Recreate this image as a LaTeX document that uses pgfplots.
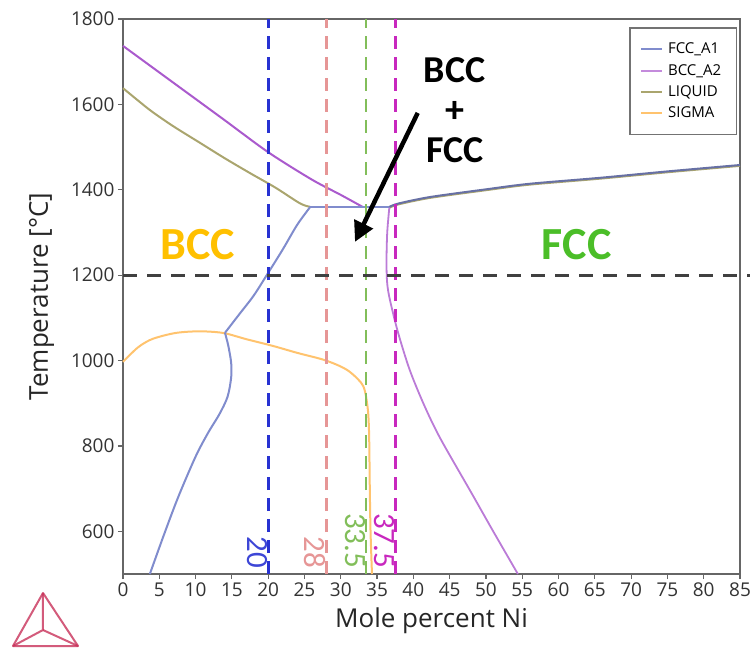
\documentclass[border=0pt]{standalone}
\usepackage{fontspec}
\setmainfont{Open Sans}
\newfontfamily\cali{Carlito}
\usepackage{pgfplots}
\pgfplotsset{compat=1.18}
\usetikzlibrary{arrows.meta}
\definecolor{fccblue}{RGB}{128,140,205}
\definecolor{bccpurple}{RGB}{170,90,205}
\definecolor{liqolive}{RGB}{170,165,110}
\definecolor{sigorange}{RGB}{255,195,110}
\definecolor{dblue}{RGB}{40,50,210}
\definecolor{dsalmon}{RGB}{230,150,150}
\definecolor{dgreen}{RGB}{130,190,90}
\definecolor{dmag}{RGB}{200,40,190}
\definecolor{bccor}{RGB}{255,192,0}
\definecolor{fccgr}{RGB}{75,190,40}
\definecolor{logored}{RGB}{200,50,90}
\begin{document}
\begin{tikzpicture}
\begin{axis}[
  scale only axis, width=617pt, height=555pt,
  xmin=0, xmax=85, ymin=500, ymax=1800,
  xtick={0,5,...,85}, ytick={600,800,...,1800},
  clip=false,
  axis line style={draw=black!60, line width=1.6pt},
  tick style={draw=black!60, line width=1.2pt},
  tick align=outside, xtick pos=bottom, ytick pos=left,
  major tick length=5pt,
  ticklabel style={font=\fontsize{19}{22}\selectfont, text=black!80},
  /pgf/number format/assume math mode=true,
  /pgf/number format/set thousands separator={},
  xlabel={Mole percent Ni}, ylabel={Temperature [°C]},
  label style={font=\fontsize{26}{30}\selectfont, text=black!85},
  xlabel style={yshift=-4pt},
  ylabel style={yshift=10pt},
  legend style={at={(0.995,0.985)}, anchor=north east, draw=black!55, line width=1.4pt,
    fill=white, font=\fontsize{15}{17}\selectfont, row sep=5pt, inner xsep=10pt, inner ysep=13pt,
    nodes={inner xsep=5pt}},
  legend cell align=left,
  legend image code/.code={\draw[#1, line width=2pt] (0pt,0pt) -- (21pt,0pt);},
]
\addlegendimage{fccblue}\addlegendentry{FCC\_A1}
\addlegendimage{bccpurple!70!white}\addlegendentry{BCC\_A2}
\addlegendimage{liqolive}\addlegendentry{LIQUID}
\addlegendimage{sigorange}\addlegendentry{SIGMA}

% LIQUID (olive)
\addplot[liqolive, line width=2pt, smooth, forget plot] coordinates {
(0,1638)(2,1610)(4,1583)(7,1548)(10.6,1510)(14,1474)(17.5,1439)(21,1405)(24.4,1368)(25.8,1360)};
\addplot[liqolive, line width=2pt, smooth, forget plot] coordinates {
(36.7,1358)(38,1366)(42.3,1381)(50,1399)(56,1412)(65.7,1426)(75,1441)(85,1456)};
% SIGMA (orange)
\addplot[sigorange, line width=2pt, smooth, forget plot] coordinates {
(0,997)(2,1030)(3.7,1048)(5.5,1058)(7.4,1065)(9.5,1068)(11.6,1068)(14,1064)(17,1050)(20.7,1034)(24,1018)(27.6,1002)(30,986)(31.5,970)(33.1,940)(33.7,890)(33.9,830)(34.0,700)(34.1,600)(34.3,500)};
% BCC_A2 (purple)
\addplot[bccpurple, line width=2pt, smooth, forget plot] coordinates {
(0,1737)(7,1650)(14,1563)(20,1488)(26,1424)(30,1388)(33,1360)};
\addplot[bccpurple, line width=2pt, forget plot] coordinates {(33,1360)(36.7,1360)};
\addplot[bccpurple!80!white, line width=1.8pt, smooth, forget plot] coordinates {
(36.7,1360)(36.4,1300)(36.3,1230)(36.4,1180)(36.8,1140)(37.9,1065)(39.5,978)(41.5,895)(43.7,818)(48,690)(51,600)(54.4,500)};
% FCC_A1 (blue)
\addplot[fccblue, line width=2pt, forget plot] coordinates {(25.8,1360)(36.7,1360)};
\addplot[fccblue!80!black, line width=2pt, smooth, forget plot] coordinates {
(36.7,1360)(38,1368)(42.3,1383)(50,1401)(56,1414)(65.7,1428)(75,1443)(85,1458)};
\addplot[fccblue, line width=2pt, smooth, forget plot] coordinates {
(25.8,1360)(24,1318)(22,1260)(19.8,1200)(18,1152)(16,1108)(14.05,1065)};
\addplot[fccblue, line width=2pt, smooth, forget plot] coordinates {
(14.05,1065)(14.5,1035)(14.9,995)(14.9,960)(14.4,915)(13.3,875)(11.7,830)(10,775)(7.6,680)(5.6,590)(3.7,500)};

% reference lines
\addplot[dblue, line width=3pt, dash pattern=on 13pt off 8pt, forget plot] coordinates {(20,500)(20,1800)};
\addplot[dsalmon, line width=2.5pt, dash pattern=on 13pt off 8pt, forget plot] coordinates {(28,500)(28,1800)};
\addplot[dgreen, line width=2.5pt, dash pattern=on 13pt off 8pt, forget plot] coordinates {(33.5,500)(33.5,1800)};
\addplot[dmag, line width=3pt, dash pattern=on 13pt off 8pt, forget plot] coordinates {(37.5,500)(37.5,1800)};
\addplot[black!75, line width=3pt, dash pattern=on 14pt off 10pt, forget plot] coordinates {(0,1200)(86.4,1200)};

\node[rotate=-90, anchor=north east, inner sep=0pt, xshift=-2pt, text=dblue!90!white, font=\cali\fontsize{31}{31}\selectfont] at (axis cs:20,509) {20};
\node[rotate=-90, anchor=north east, inner sep=0pt, xshift=-2pt, text=dsalmon, font=\cali\fontsize{31}{31}\selectfont] at (axis cs:28,509) {28};
\node[rotate=-90, anchor=north east, inner sep=0pt, xshift=-2pt, text=dgreen, font=\cali\fontsize{31}{31}\selectfont] at (axis cs:33.5,509) {33.5};
\node[rotate=-90, anchor=north east, inner sep=0pt, xshift=-2pt, text=dmag, font=\cali\fontsize{31}{31}\selectfont] at (axis cs:37.5,509) {37.5};

\node[text=bccor, font=\cali\bfseries\fontsize{46}{50}\selectfont] at (axis cs:10.3,1271) {BCC};
\node[text=fccgr, font=\cali\bfseries\fontsize{46}{50}\selectfont] at (axis cs:62.5,1271) {FCC};
\node[align=center, font=\cali\bfseries\fontsize{38}{40}\selectfont] at (axis cs:45.7,1587) {BCC\\+\\FCC};
\draw[line width=4.5pt, -{Triangle[length=20pt,width=20pt]}] (axis cs:40.6,1580) -- (axis cs:31.96,1278);

\coordinate (SW) at (rel axis cs:0,0);
\coordinate (NE) at (rel axis cs:1,1);
\end{axis}
\begin{scope}[shift={(SW)}, logored, line width=2pt, opacity=0.8, line join=round]
  \draw (-80pt,-19pt) -- (-110pt,-72pt) -- (-45pt,-72pt) -- cycle;
  \draw (-80pt,-19pt) -- (-80pt,-56pt) -- (-110pt,-72pt);
  \draw (-80pt,-56pt) -- (-45pt,-72pt);
\end{scope}
\pgfresetboundingbox
\path[use as bounding box] ([xshift=-123pt,yshift=-74pt]SW) rectangle ([xshift=15pt,yshift=19pt]NE);
\end{tikzpicture}
\end{document}
